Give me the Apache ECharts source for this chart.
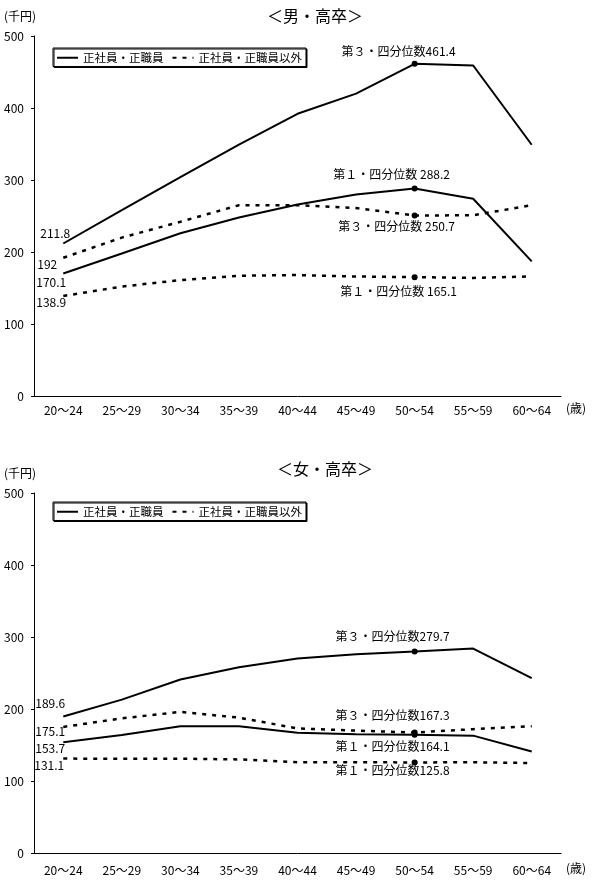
<!DOCTYPE html>
<html><head><meta charset="utf-8">
<script src="https://cdn.jsdelivr.net/npm/echarts@6/dist/echarts.min.js"></script>
<style>html,body{margin:0;padding:0;background:#fff}#c{width:601px;height:880px}</style>
</head><body><div id="c"></div>
<script>
var categories = ["20～24","25～29","30～34","35～39","40～44","45～49","50～54","55～59","60～64"];
var yTicks = [0,100,200,300,400,500];
var seriesNames = ["正社員・正職員","正社員・正職員以外"];
// 男・高卒
var maleRegQ3 = [211.8, 258, 304, 349, 392, 420, 461.4, 459, 349];
var maleRegQ1 = [170.1, 198, 226, 248, 266, 280, 288.2, 274, 187];
var maleNonQ3 = [192, 220, 242, 265, 265, 261, 250.7, 251, 265];
var maleNonQ1 = [138.9, 152, 161, 167, 168, 166, 165.1, 164, 166];
// 女・高卒
var femRegQ3 = [189.6, 213, 241, 258, 270, 276, 279.7, 284, 243];
var femRegQ1 = [153.7, 164, 176, 176, 167, 165, 164.1, 163, 141];
var femNonQ3 = [175.1, 187, 196, 188, 173, 170, 167.3, 172, 176];
var femNonQ1 = [131.1, 131, 131, 130, 126, 126, 125.8, 126, 125];

var FONT = '"Noto Sans CJK JP", "DejaVu Sans", sans-serif';
var chart = echarts.init(document.getElementById('c'), null, {renderer:'canvas'});

function mk(name, vals, gi, dashed, startOff, endText, endOff) {
  var data = vals.map(function (v, i) {
    var item = { value: v };
    if (i === 0) {
      item.label = { show: true, position: 'inside', offset: startOff, formatter: String(v) };
    } else if (i === 6) {
      item.label = { show: true, position: 'inside', offset: endOff, formatter: endText + v };
    }
    return item;
  });
  return {
    type: 'line', name: name, xAxisIndex: gi, yAxisIndex: gi, data: data,
    symbol: 'circle',
    symbolSize: function (v, p) { return p.dataIndex === 6 ? 6 : 0; },
    itemStyle: { color: '#000' },
    lineStyle: { color: '#000', width: dashed ? 2.5 : 2, type: dashed ? [4, 6] : 'solid' },
    label: { color: '#000', fontSize: 12, fontFamily: FONT },
    emphasis: { disabled: true },
    animation: false, silent: true
  };
}

function xAx(gi, margin) {
  return {
    type: 'category', gridIndex: gi, data: categories, boundaryGap: true,
    axisLine: { lineStyle: { color: '#000', width: 1 } },
    axisTick: { inside: true, length: 3, alignWithLabel: false, lineStyle: { color: '#000' } },
    axisLabel: { color: '#000', fontSize: 12, fontFamily: FONT, margin: margin, interval: 0 },
    splitLine: { show: false }
  };
}
function yAx(gi) {
  return {
    type: 'value', gridIndex: gi, min: yTicks[0], max: yTicks[yTicks.length - 1], interval: 100,
    axisLine: { show: true, lineStyle: { color: '#000', width: 1 } },
    axisTick: { show: true, length: 3, lineStyle: { color: '#000' } },
    axisLabel: { color: '#000', fontSize: 12, fontFamily: FONT, margin: 10 },
    splitLine: { show: false }
  };
}
function legend(top) {
  return {
    data: seriesNames, left: 53, top: top, orient: 'horizontal',
    itemWidth: 21, itemHeight: 10, itemGap: 8,
    padding: [4, 4, 3, 3],
    borderColor: '#000', borderWidth: 1, backgroundColor: '#fff',
    shadowColor: '#000', shadowOffsetX: 1, shadowOffsetY: 1, shadowBlur: 0,
    itemStyle: { opacity: 0 },
    textStyle: { color: '#000', fontSize: 11.5, fontFamily: FONT },
    selectedMode: false
  };
}

var option = {
  backgroundColor: '#fff',
  animation: false,
  grid: [
    { left: 34, top: 36, width: 527, height: 360 },
    { left: 34, top: 493, width: 527, height: 360 }
  ],
  xAxis: [xAx(0, 8), xAx(1, 11)],
  yAxis: [yAx(0), yAx(1)],
  legend: [legend(48), legend(502)],
  graphic: [
    { type: 'text', left: 267, top: 8, style: { text: '＜男・高卒＞', font: '16px ' + FONT, fill: '#000' } },
    { type: 'text', left: 277, top: 461, style: { text: '＜女・高卒＞', font: '16px ' + FONT, fill: '#000' } },
    { type: 'text', left: 4, top: 10, style: { text: '(千円)', font: '12px ' + FONT, fill: '#000' } },
    { type: 'text', left: 4, top: 467, style: { text: '(千円)', font: '12px ' + FONT, fill: '#000' } },
    { type: 'text', left: 566, top: 402, style: { text: '(歳)', font: '12px ' + FONT, fill: '#000' } },
    { type: 'text', left: 566, top: 862, style: { text: '(歳)', font: '12px ' + FONT, fill: '#000' } }
  ],
  series: [
    mk(seriesNames[0], maleRegQ3, 0, false, [-8, -10], '第３・四分位数', [-16, -12]),
    mk(seriesNames[0], maleRegQ1, 0, false, [-12, 9], '第１・四分位数 ', [-23, -14]),
    mk(seriesNames[1], maleNonQ3, 0, true, [-16, 7], '第３・四分位数 ', [-18, 11]),
    mk(seriesNames[1], maleNonQ1, 0, true, [-12, 6], '第１・四分位数 ', [-16, 14]),
    mk(seriesNames[0], femRegQ3, 1, false, [-13, -13], '第３・四分位数', [-22, -15]),
    mk(seriesNames[0], femRegQ1, 1, false, [-13, 6], '第１・四分位数', [-22, 12]),
    mk(seriesNames[1], femNonQ3, 1, true, [-13, 5], '第３・四分位数', [-22, -17]),
    mk(seriesNames[1], femNonQ1, 1, true, [-14, 7], '第１・四分位数', [-22, 8])
  ]
};
chart.setOption(option);
</script>
</body></html>
